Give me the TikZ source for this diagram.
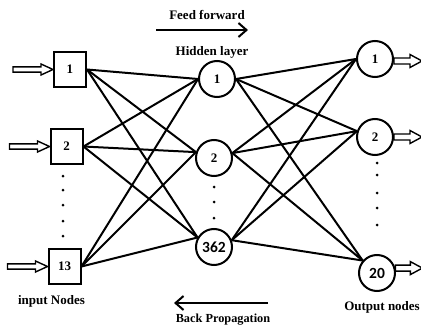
\documentclass[tikz,border=0pt]{standalone}
\usepackage{fontspec}
\setmainfont{Liberation Serif}
\newfontfamily\numfont{Carlito}
\usetikzlibrary{arrows.meta}

\tikzset{
  inbox/.style={draw, line width=2pt, minimum width=32pt, minimum height=35pt,
    inner sep=0pt, font=\fontsize{13}{13}\selectfont\bfseries},
  neuron/.style={draw, circle, line width=2pt, minimum size=36pt, inner sep=0pt,
    font=\fontsize{13}{13}\selectfont\bfseries},
  bignum/.style={font=\fontsize{15.5}{15.5}\selectfont\numfont\bfseries},
  link/.style={line width=2pt},
  caption/.style={inner sep=0pt, font=\fontsize{13}{13}\selectfont\bfseries},
  flow/.style={line width=2pt, -{Straight Barb[length=8pt,width=14pt,line width=2pt]}},
  dot/.style={fill, circle, inner sep=0pt, minimum size=3pt},
  pics/fatarrow/.style n args={3}{code={
    \draw[line width=1.4pt, line join=miter]
      (0,-#3) -- ({#1-12},-#3) -- ({#1-12},-#2) -- (#1,0)
      -- ({#1-12},#2) -- ({#1-12},#3) -- (0,#3) -- cycle;}}
}

\begin{document}
\begin{tikzpicture}[x=1pt, y=-1pt]
\useasboundingbox (0,0) rectangle (421,332);

% input layer
\node[inbox] (i1) at (70,69.5) {1};
\node[inbox] (i2) at (66.5,146.5) {2};
\node[inbox] (i13) at (64.5,266.5) {13};

% hidden layer
\node[neuron] (h1) at (217,79) {1};
\node[neuron] (h2) at (214,158) {2};
\node[neuron, bignum] (h362) at (214,247) {362};

% output layer
\node[neuron] (o1) at (375,59) {1};
\node[neuron] (o2) at (375,137) {2};
\node[neuron, bignum] (o20) at (377,273) {20};

% input -> hidden connections
\foreach \i in {i1,i2,i13}{
  \draw[link] (\i.east) -- (h1.180);
  \draw[link] (\i.east) -- (h2.162);
  \draw[link] (\i.east) -- (h362.150);
}
% hidden -> output connections
\foreach \h/\a in {h1/0,h2/15,h362/21}{
  \draw[link] (\h.\a) -- (o1.180);
  \draw[link] (\h.\a) -- (o2.162);
  \draw[link] (\h.\a) -- (o20.139);
}

% signal arrows into inputs and out of outputs
\pic at ([xshift=-40pt]i1.west) {fatarrow={40}{5.5}{2.6}};
\pic at ([xshift=-40pt]i2.west) {fatarrow={40}{5.5}{2.6}};
\pic at ([xshift=-40pt]i13.west) {fatarrow={40}{5.5}{2.6}};
\pic at ([yshift=-2pt]o1.east) {fatarrow={28}{6.5}{3}};
\pic at (o2.east) {fatarrow={28}{6.5}{3}};
\pic at (o20.15) {fatarrow={27}{6.5}{3}};

% ellipsis dots
\foreach \y in {176,190,205,221,236} \node[dot] (din\y) at (63,\y) {};
\foreach \y in {187,202,218} \node[dot] (dh\y) at (214,\y) {};
\foreach \y in {163,175,193,208,225} \node[dot] (dout\y) at (377,\y) {};

% captions
\node[caption] (ff) at (207,15) {Feed forward};
\node[caption] (hl) at (212,52) {Hidden layer};
\node[caption] (inl) at (51.5,301) {input Nodes};
\node[caption, anchor=east] (outl) at (420,307) {Output nodes};
\node[caption, font=\fontsize{12.3}{12.3}\selectfont\bfseries] (bp) at (223,320) {Back Propagation};

% direction arrows
\coordinate (ffa) at (156,30);
\coordinate (ffb) at (248,30);
\draw[flow] (ffa) -- (ffb);
\coordinate (bpa) at (268,303);
\coordinate (bpb) at (174,303);
\draw[flow] (bpa) -- (bpb);
\end{tikzpicture}
\end{document}
